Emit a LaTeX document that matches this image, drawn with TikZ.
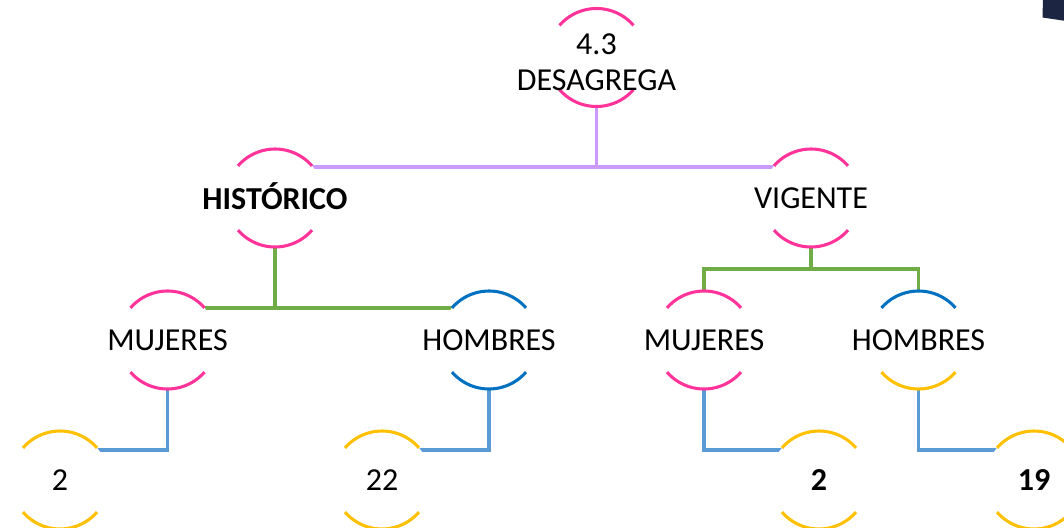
\documentclass[tikz,border=0pt]{standalone}
\usepackage{fontspec}
\setmainfont{Carlito}
\usetikzlibrary{calc}
\definecolor{cpink}{HTML}{FF3399}
\definecolor{cblue}{HTML}{0070C0}
\definecolor{cyellow}{HTML}{FFC000}
\definecolor{cpurple}{HTML}{CC99FF}
\definecolor{cgreen}{HTML}{70AD47}
\definecolor{clblue}{HTML}{5B9BD5}
\definecolor{cnavy}{HTML}{1C2541}
\pgfdeclarelayer{bg}
\pgfdeclarelayer{mid}
\pgfsetlayers{bg,mid,main}
\tikzset{
  arcline/.style={line width=2.3pt},
  conn/.style={line width=2.4pt},
  lbl/.style={inner sep=0pt, align=center, font=\fontsize{24}{27}\selectfont},
}
\newcommand\cnode[7][0]{%
  \coordinate (#2) at (#3,#4);
  \begin{pgfonlayer}{mid}\fill[white] (#2) circle[radius=36.75pt];\end{pgfonlayer}
  \draw[#5, arcline] ($(#2)+(41:36.75pt)$) arc[start angle=41, end angle=139, radius=36.75pt];
  \draw[#6, arcline] ($(#2)+(221:36.75pt)$) arc[start angle=221, end angle=319, radius=36.75pt];
  \node[lbl] (#2-t) at ($(#2)+(0,#1)$) {#7};
}
\begin{document}
\begin{tikzpicture}[x=0.75pt, y=-0.75pt]
\useasboundingbox (0,0) rectangle (1064,528);
\clip (0,0) rectangle (1064,528);
% corner shape
\fill[cnavy] (1043,-2) -- (1066,-2) -- (1066,21) -- (1042.5,17.5) -- cycle;
% nodes
\cnode[4.5]{root}{596.5}{57.5}{cpink}{cpink}{4.3\\DESAGREGA}
\cnode[-1.5]{hist}{275}{198}{cpink}{cpink}{\textbf{HISTÓRICO}}
\cnode{vig}{811}{198}{cpink}{cpink}{VIGENTE}
\cnode{m1}{167.5}{340}{cpink}{cpink}{MUJERES}
\cnode{h1}{489}{340}{cblue}{cblue}{HOMBRES}
\cnode{m2}{704}{340}{cpink}{cpink}{MUJERES}
\cnode{h2}{918.5}{340}{cblue}{cyellow}{HOMBRES}
\cnode{l1}{60}{480}{cyellow}{cyellow}{2}
\cnode{l2}{382}{480}{cyellow}{cyellow}{22}
\cnode{l3}{819}{480}{cyellow}{cyellow}{\textbf{2}}
\cnode{l4}{1034}{480}{cyellow}{cyellow}{\textbf{19}}
% connectors
\coordinate (j1) at (596.5,167);
\coordinate (j2) at (275,308);
\coordinate (j3) at (811,269);
\begin{pgfonlayer}{bg}
\draw[cpurple, conn] (root) -- (j1);
\draw[cpurple, conn] (hist) |- (j1) -| (vig);
\draw[cgreen, conn] (hist) -- (j2);
\draw[cgreen, conn] (m1) |- (j2) -| (h1);
\draw[cgreen, conn] (vig) -- (j3);
\draw[cgreen, conn] (m2) |- (j3) -| (h2);
\draw[clblue, conn] (m1) |- ($(l1)+(0,-30)$);
\draw[clblue, conn] (h1) |- ($(l2)+(0,-30)$);
\draw[clblue, conn] (m2) |- ($(l3)+(0,-30)$);
\draw[clblue, conn] (h2) |- ($(l4)+(0,-30)$);
\end{pgfonlayer}
\end{tikzpicture}
\end{document}
